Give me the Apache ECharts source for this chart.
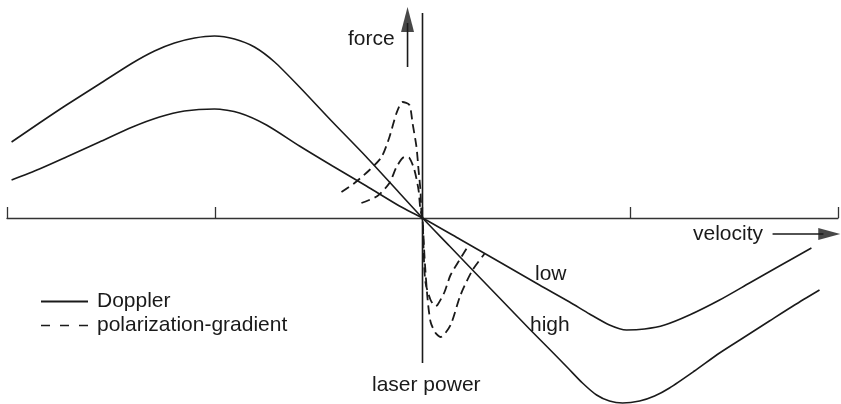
<!DOCTYPE html>
<html>
<head>
<meta charset="utf-8">
<script src="https://cdn.jsdelivr.net/npm/echarts@6/dist/echarts.min.js"></script>
<style>
  html, body { margin: 0; padding: 0; background: #ffffff; }
  #chart { width: 841px; height: 404px; }
</style>
</head>
<body>
<div id="chart"></div>
<script>
// Velocity ticks along the horizontal axis (arbitrary units)
const velocityTicks = [-2, -1, 0, 1, 2];

// Doppler cooling force, high laser power
const dopplerHighV = [-1.978, -1.844, -1.714, -1.555, -1.396, -1.290, -1.194, -1.097, -1.001, -0.905, -0.809, -0.712, -0.592, -0.433, -0.270, -0.111, 0,
  0.130, 0.250, 0.371, 0.515, 0.620, 0.700, 0.770, 0.838, 0.900, 0.963, 1.045, 1.117, 1.189, 1.309, 1.430, 1.550, 1.670, 1.791, 1.911];
const dopplerHighF = [0.76, 0.95, 1.13, 1.34, 1.55, 1.67, 1.75, 1.80, 1.82, 1.79, 1.71, 1.56, 1.31, 0.96, 0.61, 0.25, 0,
  -0.28, -0.54, -0.80, -1.11, -1.33, -1.50, -1.65, -1.77, -1.83, -1.85, -1.83, -1.78, -1.70, -1.53, -1.35, -1.19, -1.03, -0.87, -0.72];

// Doppler cooling force, low laser power
const dopplerLowV = [-1.978, -1.844, -1.714, -1.555, -1.396, -1.266, -1.146, -1.001, -0.881, -0.751, -0.592, -0.433, -0.270, -0.111, 0,
  0.178, 0.371, 0.563, 0.708, 0.804, 0.900, 0.982, 1.069, 1.165, 1.285, 1.430, 1.574, 1.718, 1.872];
const dopplerLowF = [0.38, 0.49, 0.61, 0.76, 0.91, 1.01, 1.07, 1.09, 1.05, 0.93, 0.72, 0.52, 0.32, 0.12, 0,
  -0.21, -0.44, -0.67, -0.84, -0.96, -1.07, -1.12, -1.11, -1.07, -0.97, -0.82, -0.65, -0.48, -0.30];

// Polarization-gradient force, strong feature
const pgStrongV = [-0.390, -0.327, -0.255, -0.197, -0.159, -0.125, -0.096, -0.063, -0.048, -0.029, -0.019, -0.010, -0.005, 0, 0.010, 0.024, 0.039, 0.063, 0.087, 0.135, 0.183, 0.241, 0.298];
const pgStrongF = [0.26, 0.35, 0.48, 0.61, 0.81, 1.05, 1.16, 1.13, 0.95, 0.71, 0.48, 0.28, 0.05, 0, -0.40, -0.80, -1.04, -1.15, -1.19, -1.07, -0.77, -0.52, -0.36];

// Polarization-gradient force, weak feature
const pgWeakV = [-0.294, -0.217, -0.159, -0.125, -0.087, -0.063, -0.039, -0.019, -0.010, 0, 0.005, 0.014, 0.039, 0.063, 0.072, 0.106, 0.135, 0.178, 0.217];
const pgWeakF = [0.15, 0.22, 0.35, 0.51, 0.61, 0.60, 0.48, 0.28, 0.08, 0, -0.30, -0.64, -0.82, -0.88, -0.87, -0.74, -0.57, -0.42, -0.29];

// Force axis (vertical line through v = 0)
const forceAxisV = [0, 0];
const forceAxisF = [2.05, -1.45];

// Arrow shafts and heads
const forceArrowV = [-0.072, -0.072];
const forceArrowF = [1.51, 1.95];
const forceArrowHead = [-0.072, 1.985];
const velocityArrowV = [1.685, 1.93];
const velocityArrowF = [-0.16, -0.16];
const velocityArrowHead = [1.958, -0.16];

const FONT = '"Liberation Sans", Arial, Helvetica, sans-serif';
const INK = '#1a1a1a';
const AXIS = '#333333';

function pairs(xs, ys) { return xs.map((x, i) => [x, ys[i]]); }

function curve(name, xs, ys, dashed) {
  return {
    type: 'line',
    name: name,
    data: pairs(xs, ys),
    smooth: 0.25,
    symbol: 'none',
    showSymbol: false,
    silent: true,
    clip: false,
    z: 3,
    lineStyle: dashed
      ? { color: INK, width: 1.8, type: [9, 5] }
      : { color: INK, width: 1.6, type: 'solid' },
    itemStyle: { color: INK }
  };
}

function plainLine(name, xs, ys) {
  return {
    type: 'line',
    name: name,
    data: pairs(xs, ys),
    symbol: 'none',
    silent: true,
    clip: false,
    z: 2,
    lineStyle: { color: INK, width: 1.6 }
  };
}

const chart = echarts.init(document.getElementById('chart'), null, { renderer: 'canvas' });

chart.setOption({
  animation: false,
  backgroundColor: '#ffffff',
  grid: { left: 7, right: 3, top: 8, bottom: 0, containLabel: false },
  xAxis: {
    type: 'value',
    min: velocityTicks[0],
    max: velocityTicks[velocityTicks.length - 1],
    interval: velocityTicks[1] - velocityTicks[0],
    axisLine: { show: true, onZero: true, lineStyle: { color: AXIS, width: 1.3 } },
    axisTick: { show: true, inside: true, length: 11, lineStyle: { color: AXIS, width: 1.3 } },
    axisLabel: { show: false },
    splitLine: { show: false }
  },
  yAxis: {
    type: 'value',
    min: -1.86,
    max: 2.1,
    show: false
  },
  legend: {
    data: [
      { name: 'Doppler' },
      { name: 'polarization-gradient', lineStyle: { type: [9, 10], width: 1.6 } }
    ],
    orient: 'vertical',
    left: 35,
    top: 286,
    itemWidth: 47,
    itemHeight: 14,
    itemGap: 3,
    selectedMode: false,
    itemStyle: { opacity: 0, borderWidth: 0 },
    textStyle: { fontFamily: FONT, fontSize: 21, color: INK, padding: [0, 0, 0, 4] }
  },
  series: [
    curve('Doppler', dopplerHighV, dopplerHighF, false),
    curve('Doppler', dopplerLowV, dopplerLowF, false),
    curve('polarization-gradient', pgStrongV, pgStrongF, true),
    curve('polarization-gradient', pgWeakV, pgWeakF, true),
    plainLine('force axis', forceAxisV, forceAxisF),
    plainLine('force arrow', forceArrowV, forceArrowF),
    plainLine('velocity arrow', velocityArrowV, velocityArrowF),
    {
      type: 'scatter',
      name: 'arrow heads',
      silent: true,
      clip: false,
      z: 4,
      symbol: 'triangle',
      itemStyle: { color: INK },
      data: [
        { value: forceArrowHead, symbolSize: [13, 25], symbolRotate: 0 },
        { value: velocityArrowHead, symbolSize: [12, 22], symbolRotate: -90 }
      ]
    }
  ],
  graphic: [
    { type: 'text', left: 348, top: 29, silent: true,
      style: { text: 'force', font: '21px ' + FONT, fill: INK } },
    { type: 'text', left: 693, top: 224, silent: true,
      style: { text: 'velocity', font: '21px ' + FONT, fill: INK } },
    { type: 'text', left: 535, top: 264, silent: true,
      style: { text: 'low', font: '21px ' + FONT, fill: INK } },
    { type: 'text', left: 530, top: 315, silent: true,
      style: { text: 'high', font: '21px ' + FONT, fill: INK } },
    { type: 'text', left: 372, top: 375, silent: true,
      style: { text: 'laser power', font: '21px ' + FONT, fill: INK } }
  ]
});
</script>
</body>
</html>
